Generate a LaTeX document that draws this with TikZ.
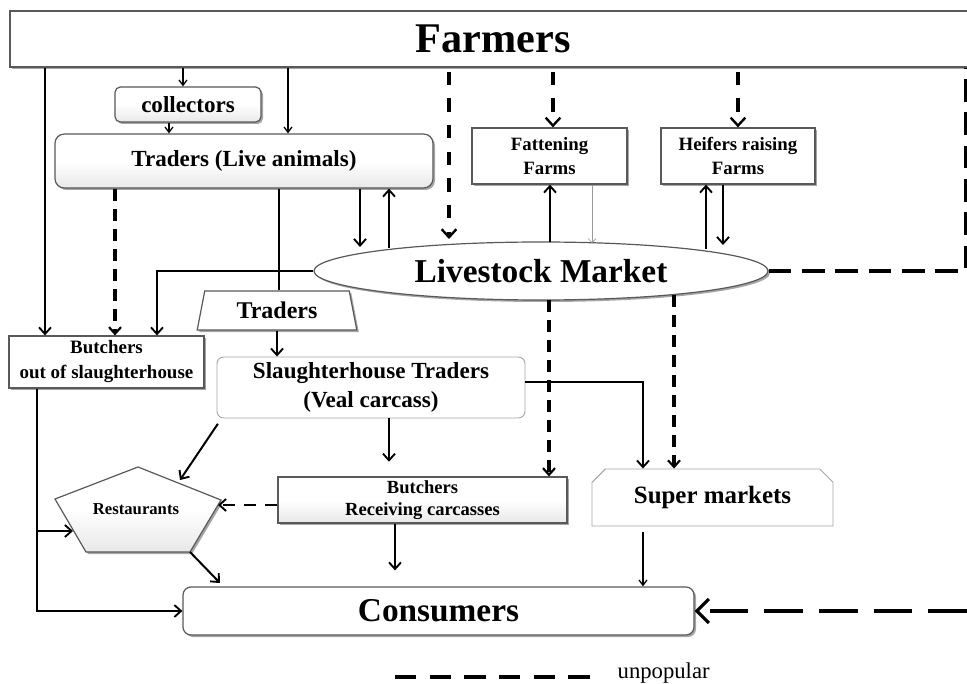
\documentclass[tikz,border=0pt]{standalone}
\usepackage{fontspec}
\setmainfont{Liberation Serif}
\usetikzlibrary{arrows.meta,shapes.geometric,shapes.misc,shadows,calc}
\newcommand\fsz[2]{\fontsize{#1pt}{#2pt}\selectfont}
\tikzset{
  shad/.style={drop shadow={shadow xshift=1.5pt,shadow yshift=-1.5pt,opacity=0.35,fill=black}},
  box/.style={draw=black!65,line width=0.9pt,fill=white,inner sep=0pt,align=center,font=\bfseries},
  bevel/.style={box,top color=white,bottom color=black!9,middle color=white},
  lightbox/.style={draw=black!35,line width=0.7pt,fill=white,inner sep=0pt,align=center,font=\bfseries},
  sz/.style 2 args={minimum width=#1,minimum height=#2},
  tip/.style={-{Straight Barb[length=5pt,width=9pt,line width=1.4pt]}},
  arr/.style={tip,line width=1.5pt},
  tarr/.style={-{Straight Barb[length=4pt,width=6pt,line width=1pt]},line width=0.9pt},
  darr/.style={-{Straight Barb[length=6pt,width=11pt,line width=1.8pt]},line width=2.8pt,dash pattern=on 10pt off 10pt},
  sdarr/.style={-{Straight Barb[length=5pt,width=9pt,line width=1.6pt]},line width=2.6pt,dash pattern=on 9pt off 6pt},
  mdarr/.style={-{Straight Barb[length=5pt,width=9pt,line width=1.4pt]},line width=1.9pt,dash pattern=on 9pt off 7pt},
  bdarr/.style={-{Straight Barb[length=9pt,width=18pt,line width=2.4pt]},line width=3.6pt,dash pattern=on 29pt off 12pt},
  dline/.style={line width=2.6pt,dash pattern=on 17pt off 8pt},
}
\begin{document}
\begin{tikzpicture}[x=0.75pt,y=-0.75pt]
\clip (0,0) rectangle (967,684);
\fill[white] (0,0) rectangle (967,684);

% nodes
\node[box,shad,sz={724.5pt}{42pt},font=\bfseries\fsz{31.7}{36}] (farm) at (493,39) {Farmers};
\node[bevel,shad,rounded corners=4pt,sz={109.5pt}{26.25pt},font=\bfseries\fsz{17.3}{20}] (col) at (188,104.5) {collectors};
\node[bevel,shad,rounded corners=7pt,sz={283.5pt}{40.5pt},font=\bfseries\fsz{17.3}{20}] (tl) at (244,161) {Traders (Live animals)};
\node[box,shad,sz={116.25pt}{42pt},font=\bfseries\fsz{14.1}{18}] (ff) at (549.5,156) {Fattening\\Farms};
\node[box,shad,sz={115.5pt}{42pt},font=\bfseries\fsz{14.1}{18}] (hf) at (738,156) {Heifers raising\\Farms};
\node[box,shad,ellipse,sz={340.5pt}{43.5pt},font=\bfseries\fsz{25}{28}] (lm) at (541,271) {Livestock Market};
\node[box,shad,trapezium,trapezium left angle=76,trapezium right angle=76,trapezium stretches=true,
      sz={120pt}{29.25pt},font=\bfseries\fsz{18}{20}] (tr) at (277,310.5) {Traders};
\node[box,shad,sz={146.25pt}{39pt},text depth=4pt,font=\bfseries\fsz{14.2}{19}] (bo) at (106.5,362) {Butchers\\out of slaughterhouse};
\node[lightbox,rounded corners=5pt,sz={231pt}{45.75pt},font=\bfseries\fsz{17.3}{22}] (sl) at (371,387.5) {Slaughterhouse Traders\\(Veal carcass)};
\node[bevel,shad,sz={216.75pt}{34.5pt},font=\bfseries\fsz{13.9}{17}] (br) at (422.5,500) {Butchers\\Receiving carcasses};
\node[lightbox,chamfered rectangle,chamfered rectangle corners={north west,north east},chamfered rectangle xsep=5pt,
      chamfered rectangle ysep=5pt,sz={180.75pt}{42.75pt},font=\bfseries\fsz{18.7}{21}] (sm) at (712.5,497.5) {Super markets};
\node[box,shad,rounded corners=6pt,sz={383.25pt}{36pt},font=\bfseries\fsz{25}{28}] (cons) at (438.5,611) {Consumers};

% restaurants pentagon
\coordinate (rT) at (138,467);
\coordinate (rRt) at (221,500);
\coordinate (rBR) at (190,552);
\coordinate (rBL) at (86,552);
\coordinate (rLt) at (55,499);
\fill[black,opacity=0.35] ($(rT)+(2,2)$) -- ($(rRt)+(2,2)$) -- ($(rBR)+(2,2)$) -- ($(rBL)+(2,2)$) -- ($(rLt)+(2,2)$) -- cycle;
\draw[draw=black!65,line width=0.9pt,top color=white,bottom color=black!9,middle color=white] (rT) -- (rRt) -- (rBR) -- (rBL) -- (rLt) -- cycle;
\node[font=\bfseries\fsz{12.5}{15}] (rest) at (136,509) {Restaurants};

% coordinates on the ellipse border and free ends
\coordinate (lm360) at (360,247);
\coordinate (lm389) at (389,248);
\coordinate (lm449) at (449,239);
\coordinate (lm550) at (550,242);
\coordinate (lm592) at (592,243);
\coordinate (lm706) at (706,249);
\coordinate (lm723) at (723,245);
\coordinate (lm549b) at (549,300);
\coordinate (lm674b) at (674,295);
\coordinate (rNE) at (180,480);
\coordinate (rE) at (218,505);
\coordinate (rW) at (73,531);
\coordinate (brp) at (37,531);
\coordinate (cTL) at (220,583);
\coordinate (rin) at (967,611);
\coordinate (lg1) at (395,677);
\coordinate (lg2) at (594,677);

% connectors
\draw[arr] (farm.south -| 45,0) -- (bo.north -| 45,0);
\draw[tarr] (farm.south -| 183,0) -- (col.north -| 183,0);
\draw[tarr] (col.south -| 169,0) -- (tl.north -| 169,0);
\draw[tarr] (farm.south -| 288,0) -- (tl.north -| 288,0);
\draw[darr] ([yshift=-3pt]farm.south -| 449,0) -- (lm449);
\draw[darr] ([yshift=-3pt]farm.south -| 553,0) -- (ff.north -| 553,0);
\draw[darr] ([yshift=-3pt]farm.south -| 738,0) -- (hf.north -| 738,0);
\draw[sdarr] (tl.south -| 115,0) -- (bo.north -| 115,0);
\draw[line width=1.5pt] (tl.south -| 279,0) -- (tr.north -| 279,0);
\draw[arr] (tl.south -| 360,0) -- (lm360);
\draw[arr] (lm389) -- (tl.south -| 389,0);
\draw[arr] (lm.west) -| (157,0 |- bo.north);
\draw[arr] (lm550) -- (ff.south -| 550,0);
\draw[-{Straight Barb[length=3pt,width=6pt]},draw=black!40,line width=0.5pt] (ff.south -| 592,0) -- (lm592);
\draw[arr] (lm706) -- (hf.south -| 706,0);
\draw[arr] (hf.south -| 723,0) -- (lm723);
\draw[dline] (lm.east) -- (lm.east -| 966,0) -- (farm.south -| 966,0);
\draw[arr] (tr.south) -- (sl.north -| tr.south);
\draw[sdarr] (lm549b) -- (br.north -| 549,0);
\draw[sdarr] (lm674b) -- (sm.north -| 674,0);
\draw[arr] (sl.east |- 0,382) -| (sm.north -| 643,0);
\draw[arr,shorten >=11pt] (sl.south -| 389,0) -- (br.north -| 389,0);
\draw[arr] ([xshift=1pt,yshift=-4pt]sl.south west) -- (rNE);
\draw[mdarr] (br.west |- rE) -- (rE);
\draw[arr] (bo.south -| 37,0) |- (cons.west);
\draw[arr] (brp) -- (rW);
\draw[arr] (rBR) -- (cTL);
\draw[arr,shorten >=12pt] (br.south -| 395,0) -- (cons.north -| 395,0);
\draw[tarr,shorten <=4pt] (sm.south -| 643,0) -- (cons.north -| 643,0);
\draw[bdarr] (rin) -- (cons.east);

% legend
\draw[line width=3.6pt,dash pattern=on 16pt off 10pt] (lg1) -- (lg2);
\node[anchor=base west,font=\fsz{17}{20}] (lgt) at (613,678) {unpopular};
\end{tikzpicture}
\end{document}
